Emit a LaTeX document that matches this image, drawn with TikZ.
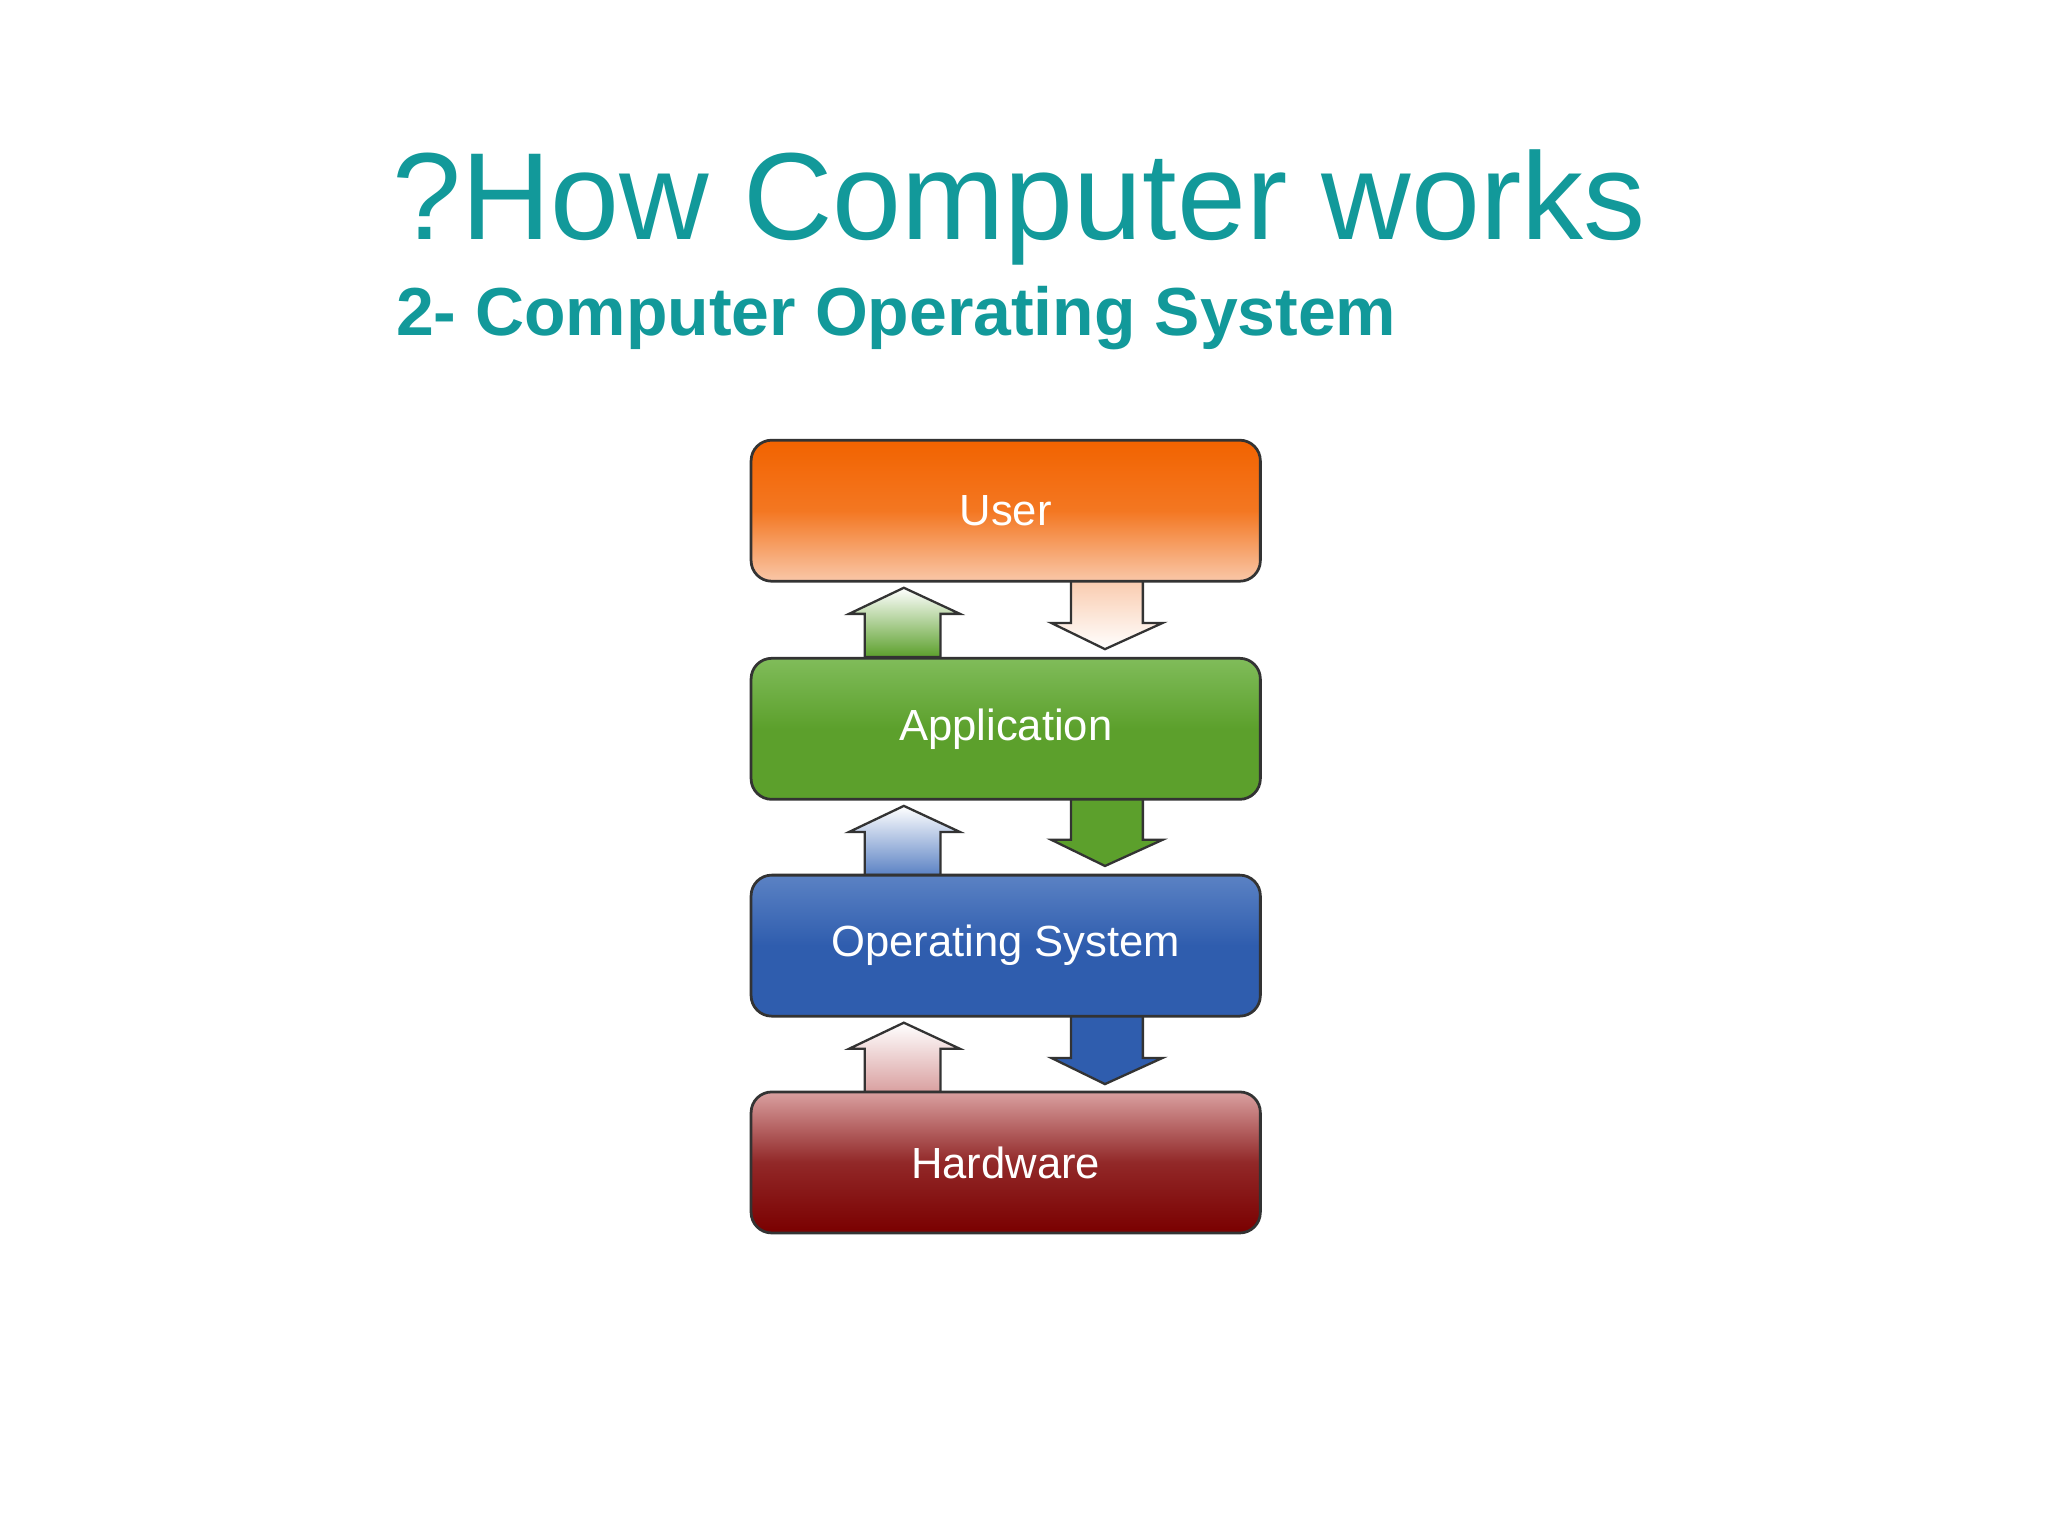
\documentclass[tikz,border=0pt]{standalone}
\usepackage{fontspec}
\setmainfont{Liberation Sans}
\begin{document}
\begin{tikzpicture}[x=0.02cm,y=-0.02cm,
  layer/.style={draw=black!80,line width=1.2pt,rounded corners=9pt,minimum width=7.8cm,minimum height=2.16cm,font=\fontsize{19}{21}\selectfont,text=white},
  arr/.style={draw=black!80,line width=1pt}]
\definecolor{teal1}{HTML}{12999A}
\definecolor{ora}{HTML}{F26300}
\definecolor{oral}{HTML}{F9C7A8}
\definecolor{grn}{HTML}{5CA02C}
\definecolor{grnl}{HTML}{80BC5A}
\definecolor{blu}{HTML}{2F5DAE}
\definecolor{blul}{HTML}{5B82C4}
\definecolor{red1}{HTML}{7A0000}
\definecolor{redl}{HTML}{D9A0A0}
\fill[white] (0,0) rectangle (1568,1176);
\node[text=teal1,font=\fontsize{54}{60}\selectfont,anchor=base west,inner sep=0] (t) at (300,183) {?How Computer works};
\node[text=teal1,font=\bfseries\fontsize{29.6}{33}\selectfont,anchor=base west,inner sep=0] (s) at (303,257) {2- Computer Operating System};
\foreach \yt/\cu in {445/grn, 612/blul, 778/redl}{
  \pgfmathsetmacro{\yb}{\yt+58}
  \shade[top color=white,bottom color=\cu,arr] (692,\yt+5) -- (735,\yt+25) -- (720,\yt+25) -- (720,\yb) -- (662,\yb) -- (662,\yt+25) -- (650,\yt+25) -- cycle;
}
\shade[top color=oral,bottom color=white,arr] (820,440) -- (875,440) -- (875,477) -- (890,477) -- (846,497) -- (805,477) -- (820,477) -- cycle;
\shade[top color=grn,bottom color=grn,arr] (820,606) -- (875,606) -- (875,643) -- (890,643) -- (846,663) -- (805,643) -- (820,643) -- cycle;
\shade[top color=blu,bottom color=blu,arr] (820,772) -- (875,772) -- (875,810) -- (890,810) -- (846,830) -- (805,810) -- (820,810) -- cycle;
\node[layer,top color=ora,bottom color=oral,middle color=ora!80!oral] (u) at (770,391) {User};
\node[layer,top color=grnl,bottom color=grn,middle color=grn] (a) at (770,558) {Application};
\node[layer,top color=blul,bottom color=blu,middle color=blu] (o) at (770,724) {Operating System};
\node[layer,top color=redl,bottom color=red1,middle color=red1!75!redl] (h) at (770,890) {Hardware};
\end{tikzpicture}
\end{document}
